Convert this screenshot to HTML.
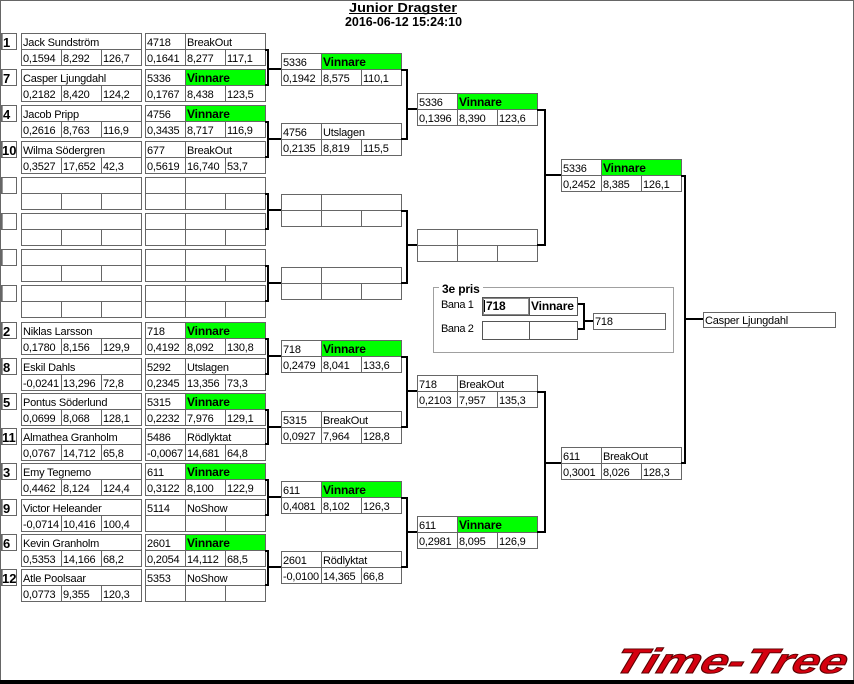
<!DOCTYPE html>
<html>
<head>
<meta charset="utf-8">
<style>
html,body{margin:0;padding:0;background:#fff;}
svg{display:block;}
.t{font-family:"Liberation Sans",Arial,sans-serif;font-size:11px;letter-spacing:-0.2px;fill:#000;}
.v{font-family:"Liberation Sans",Arial,sans-serif;font-size:12px;font-weight:bold;letter-spacing:-0.15px;fill:#000;}
.s{font-family:"Liberation Sans",Arial,sans-serif;font-size:13px;font-weight:bold;fill:#000;}
.h{font-family:"Liberation Sans",Arial,sans-serif;font-size:13px;font-weight:bold;fill:#000;}
.br{fill:none;stroke:#000;stroke-width:2;stroke-linejoin:miter;}
.g{fill:#00ff00;}
</style>
</head>
<body>
<svg width="854" height="684" viewBox="0 0 854 684" xmlns="http://www.w3.org/2000/svg">
<defs>
  <g id="b1" fill="none" stroke="#666" stroke-width="1" shape-rendering="crispEdges">
    <rect x="0.5" y="0.5" width="120" height="32"/>
    <line x1="0" y1="16.5" x2="121" y2="16.5"/>
    <line x1="40.5" y1="16" x2="40.5" y2="33"/>
    <line x1="80.5" y1="16" x2="80.5" y2="33"/>
  </g>
  <g id="b2" fill="none" stroke="#666" stroke-width="1" shape-rendering="crispEdges">
    <rect x="0.5" y="0.5" width="120" height="32"/>
    <line x1="0" y1="16.5" x2="121" y2="16.5"/>
    <line x1="40.5" y1="0" x2="40.5" y2="33"/>
    <line x1="80.5" y1="16" x2="80.5" y2="33"/>
  </g>
  <g id="sd" fill="none" stroke="#666" stroke-width="1" shape-rendering="crispEdges">
    <rect x="1.5" y="0.5" width="15" height="16"/>
    <line x1="2.5" y1="1" x2="2.5" y2="16" stroke="#999"/>
  </g>
</defs>

<!-- frame -->
<rect x="0" y="0" width="854" height="684" fill="#fff"/>
<g shape-rendering="crispEdges">
<rect x="0" y="0" width="854" height="1" fill="#666"/>
<rect x="0" y="0" width="1" height="681" fill="#666"/>
<rect x="853" y="0" width="1" height="681" fill="#666"/>
<rect x="0" y="680" width="854" height="4" fill="#000"/>
</g>

<!-- title -->
<text class="h" x="349" y="12" textLength="108" lengthAdjust="spacingAndGlyphs">Junior Dragster</text>
<rect x="349" y="13" width="108" height="1" fill="#000"/>
<text class="h" x="345" y="26" textLength="117" lengthAdjust="spacingAndGlyphs">2016-06-12 15:24:10</text>

<!-- green fills -->
<g class="g">
<rect x="186" y="70" width="79" height="15"/>
<rect x="186" y="106" width="79" height="15"/>
<rect x="186" y="323" width="79" height="15"/>
<rect x="186" y="394" width="79" height="15"/>
<rect x="186" y="464" width="79" height="15"/>
<rect x="186" y="535" width="79" height="15"/>
<rect x="322" y="54" width="79" height="15"/>
<rect x="322" y="341" width="79" height="15"/>
<rect x="322" y="482" width="79" height="15"/>
<rect x="458" y="94" width="79" height="15"/>
<rect x="458" y="517" width="79" height="15"/>
<rect x="602" y="160" width="79" height="15"/>
</g>

<!-- round 1 boxes -->
<use href="#sd" x="0" y="33"/><use href="#b1" x="21" y="33"/><use href="#b2" x="145" y="33"/>
<use href="#sd" x="0" y="69"/><use href="#b1" x="21" y="69"/><use href="#b2" x="145" y="69"/>
<use href="#sd" x="0" y="105"/><use href="#b1" x="21" y="105"/><use href="#b2" x="145" y="105"/>
<use href="#sd" x="0" y="141"/><use href="#b1" x="21" y="141"/><use href="#b2" x="145" y="141"/>
<use href="#sd" x="0" y="177"/><use href="#b1" x="21" y="177"/><use href="#b2" x="145" y="177"/>
<use href="#sd" x="0" y="213"/><use href="#b1" x="21" y="213"/><use href="#b2" x="145" y="213"/>
<use href="#sd" x="0" y="249"/><use href="#b1" x="21" y="249"/><use href="#b2" x="145" y="249"/>
<use href="#sd" x="0" y="285"/><use href="#b1" x="21" y="285"/><use href="#b2" x="145" y="285"/>
<use href="#sd" x="0" y="322"/><use href="#b1" x="21" y="322"/><use href="#b2" x="145" y="322"/>
<use href="#sd" x="0" y="358"/><use href="#b1" x="21" y="358"/><use href="#b2" x="145" y="358"/>
<use href="#sd" x="0" y="393"/><use href="#b1" x="21" y="393"/><use href="#b2" x="145" y="393"/>
<use href="#sd" x="0" y="428"/><use href="#b1" x="21" y="428"/><use href="#b2" x="145" y="428"/>
<use href="#sd" x="0" y="463"/><use href="#b1" x="21" y="463"/><use href="#b2" x="145" y="463"/>
<use href="#sd" x="0" y="499"/><use href="#b1" x="21" y="499"/><use href="#b2" x="145" y="499"/>
<use href="#sd" x="0" y="534"/><use href="#b1" x="21" y="534"/><use href="#b2" x="145" y="534"/>
<use href="#sd" x="0" y="569"/><use href="#b1" x="21" y="569"/><use href="#b2" x="145" y="569"/>

<!-- round 2..4 boxes -->
<use href="#b2" x="281" y="53"/>
<use href="#b2" x="281" y="123"/>
<use href="#b2" x="281" y="194"/>
<use href="#b2" x="281" y="267"/>
<use href="#b2" x="281" y="340"/>
<use href="#b2" x="281" y="411"/>
<use href="#b2" x="281" y="481"/>
<use href="#b2" x="281" y="551"/>
<use href="#b2" x="417" y="93"/>
<use href="#b2" x="417" y="229"/>
<use href="#b2" x="417" y="375"/>
<use href="#b2" x="417" y="516"/>
<use href="#b2" x="561" y="159"/>
<use href="#b2" x="561" y="447"/>

<!-- final box -->
<rect x="703.5" y="312.5" width="132" height="15" fill="none" stroke="#666" shape-rendering="crispEdges"/>
<text class="t" x="705" y="324">Casper Ljungdahl</text>

<!-- brackets -->
<g class="br">
<path d="M265 50 H268 V85 H265"/><path d="M268 69 H281"/>
<path d="M265 122 H268 V157 H265"/><path d="M268 139 H281"/>
<path d="M265 194 H268 V229 H265"/><path d="M268 210 H281"/>
<path d="M265 266 H268 V301 H265"/><path d="M268 283 H281"/>
<path d="M265 339 H268 V374 H265"/><path d="M268 356 H281"/>
<path d="M265 410 H268 V444 H265"/><path d="M268 427 H281"/>
<path d="M265 480 H268 V515 H265"/><path d="M268 497 H281"/>
<path d="M265 551 H268 V585 H265"/><path d="M268 567 H281"/>

<path d="M401 70 H407 V139 H401"/><path d="M407 109 H417"/>
<path d="M401 211 H407 V283 H401"/><path d="M407 245 H417"/>
<path d="M401 357 H407 V427 H401"/><path d="M407 391 H417"/>
<path d="M401 498 H407 V567 H401"/><path d="M407 532 H417"/>

<path d="M537 110 H545 V245 H537"/><path d="M545 175 H561"/>
<path d="M537 392 H545 V532 H537"/><path d="M545 463 H561"/>

<path d="M681 176 H685 V463 H681"/><path d="M685 319 H703"/>

<path d="M577 304 H584 V329 H577"/><path d="M584 321 H593"/>
</g>

<!-- seeds -->
<text class="s" x="3" y="47">1</text>
<text class="s" x="3" y="83">7</text>
<text class="s" x="3" y="119">4</text>
<text class="s" x="2" y="155">10</text>
<text class="s" x="3" y="336">2</text>
<text class="s" x="3" y="372">8</text>
<text class="s" x="3" y="407">5</text>
<text class="s" x="2" y="442">11</text>
<text class="s" x="3" y="477">3</text>
<text class="s" x="3" y="513">9</text>
<text class="s" x="3" y="548">6</text>
<text class="s" x="2" y="583">12</text>

<!-- round 1 col1 -->
<text class="t" x="23" y="46">Jack Sundström</text>
<text class="t" x="23" y="62">0,1594</text><text class="t" x="63" y="62">8,292</text><text class="t" x="103" y="62">126,7</text>
<text class="t" x="23" y="82">Casper Ljungdahl</text>
<text class="t" x="23" y="98">0,2182</text><text class="t" x="63" y="98">8,420</text><text class="t" x="103" y="98">124,2</text>
<text class="t" x="23" y="118">Jacob Pripp</text>
<text class="t" x="23" y="134">0,2616</text><text class="t" x="63" y="134">8,763</text><text class="t" x="103" y="134">116,9</text>
<text class="t" x="23" y="154">Wilma Södergren</text>
<text class="t" x="23" y="170">0,3527</text><text class="t" x="63" y="170">17,652</text><text class="t" x="103" y="170">42,3</text>

<text class="t" x="23" y="335">Niklas Larsson</text>
<text class="t" x="23" y="351">0,1780</text><text class="t" x="63" y="351">8,156</text><text class="t" x="103" y="351">129,9</text>
<text class="t" x="23" y="371">Eskil Dahls</text>
<text class="t" x="23" y="387">-0,0241</text><text class="t" x="63" y="387">13,296</text><text class="t" x="103" y="387">72,8</text>
<text class="t" x="23" y="406">Pontus Söderlund</text>
<text class="t" x="23" y="422">0,0699</text><text class="t" x="63" y="422">8,068</text><text class="t" x="103" y="422">128,1</text>
<text class="t" x="23" y="441">Almathea Granholm</text>
<text class="t" x="23" y="457">0,0767</text><text class="t" x="63" y="457">14,712</text><text class="t" x="103" y="457">65,8</text>
<text class="t" x="23" y="476">Emy Tegnemo</text>
<text class="t" x="23" y="492">0,4462</text><text class="t" x="63" y="492">8,124</text><text class="t" x="103" y="492">124,4</text>
<text class="t" x="23" y="512">Victor Heleander</text>
<text class="t" x="23" y="528">-0,0714</text><text class="t" x="63" y="528">10,416</text><text class="t" x="103" y="528">100,4</text>
<text class="t" x="23" y="547">Kevin Granholm</text>
<text class="t" x="23" y="563">0,5353</text><text class="t" x="63" y="563">14,166</text><text class="t" x="103" y="563">68,2</text>
<text class="t" x="23" y="582">Atle Poolsaar</text>
<text class="t" x="23" y="598">0,0773</text><text class="t" x="63" y="598">9,355</text><text class="t" x="103" y="598">120,3</text>

<!-- round 1 col2 -->
<text class="t" x="147" y="46">4718</text><text class="t" x="187" y="46">BreakOut</text>
<text class="t" x="147" y="62">0,1641</text><text class="t" x="187" y="62">8,277</text><text class="t" x="227" y="62">117,1</text>
<text class="t" x="147" y="82">5336</text><text class="v" x="187" y="82">Vinnare</text>
<text class="t" x="147" y="98">0,1767</text><text class="t" x="187" y="98">8,438</text><text class="t" x="227" y="98">123,5</text>
<text class="t" x="147" y="118">4756</text><text class="v" x="187" y="118">Vinnare</text>
<text class="t" x="147" y="134">0,3435</text><text class="t" x="187" y="134">8,717</text><text class="t" x="227" y="134">116,9</text>
<text class="t" x="147" y="154">677</text><text class="t" x="187" y="154">BreakOut</text>
<text class="t" x="147" y="170">0,5619</text><text class="t" x="187" y="170">16,740</text><text class="t" x="227" y="170">53,7</text>

<text class="t" x="147" y="335">718</text><text class="v" x="187" y="335">Vinnare</text>
<text class="t" x="147" y="351">0,4192</text><text class="t" x="187" y="351">8,092</text><text class="t" x="227" y="351">130,8</text>
<text class="t" x="147" y="371">5292</text><text class="t" x="187" y="371">Utslagen</text>
<text class="t" x="147" y="387">0,2345</text><text class="t" x="187" y="387">13,356</text><text class="t" x="227" y="387">73,3</text>
<text class="t" x="147" y="406">5315</text><text class="v" x="187" y="406">Vinnare</text>
<text class="t" x="147" y="422">0,2232</text><text class="t" x="187" y="422">7,976</text><text class="t" x="227" y="422">129,1</text>
<text class="t" x="147" y="441">5486</text><text class="t" x="187" y="441">Rödlyktat</text>
<text class="t" x="147" y="457">-0,0067</text><text class="t" x="187" y="457">14,681</text><text class="t" x="227" y="457">64,8</text>
<text class="t" x="147" y="476">611</text><text class="v" x="187" y="476">Vinnare</text>
<text class="t" x="147" y="492">0,3122</text><text class="t" x="187" y="492">8,100</text><text class="t" x="227" y="492">122,9</text>
<text class="t" x="147" y="512">5114</text><text class="t" x="187" y="512">NoShow</text>
<text class="t" x="147" y="547">2601</text><text class="v" x="187" y="547">Vinnare</text>
<text class="t" x="147" y="563">0,2054</text><text class="t" x="187" y="563">14,112</text><text class="t" x="227" y="563">68,5</text>
<text class="t" x="147" y="582">5353</text><text class="t" x="187" y="582">NoShow</text>

<!-- round 2 -->
<text class="t" x="283" y="66">5336</text><text class="v" x="323" y="66">Vinnare</text>
<text class="t" x="283" y="82">0,1942</text><text class="t" x="323" y="82">8,575</text><text class="t" x="363" y="82">110,1</text>
<text class="t" x="283" y="136">4756</text><text class="t" x="323" y="136">Utslagen</text>
<text class="t" x="283" y="152">0,2135</text><text class="t" x="323" y="152">8,819</text><text class="t" x="363" y="152">115,5</text>
<text class="t" x="283" y="353">718</text><text class="v" x="323" y="353">Vinnare</text>
<text class="t" x="283" y="369">0,2479</text><text class="t" x="323" y="369">8,041</text><text class="t" x="363" y="369">133,6</text>
<text class="t" x="283" y="424">5315</text><text class="t" x="323" y="424">BreakOut</text>
<text class="t" x="283" y="440">0,0927</text><text class="t" x="323" y="440">7,964</text><text class="t" x="363" y="440">128,8</text>
<text class="t" x="283" y="494">611</text><text class="v" x="323" y="494">Vinnare</text>
<text class="t" x="283" y="510">0,4081</text><text class="t" x="323" y="510">8,102</text><text class="t" x="363" y="510">126,3</text>
<text class="t" x="283" y="564">2601</text><text class="t" x="323" y="564">Rödlyktat</text>
<text class="t" x="283" y="580">-0,0100</text><text class="t" x="323" y="580">14,365</text><text class="t" x="363" y="580">66,8</text>

<!-- round 3 -->
<text class="t" x="419" y="106">5336</text><text class="v" x="459" y="106">Vinnare</text>
<text class="t" x="419" y="122">0,1396</text><text class="t" x="459" y="122">8,390</text><text class="t" x="499" y="122">123,6</text>
<text class="t" x="419" y="388">718</text><text class="t" x="459" y="388">BreakOut</text>
<text class="t" x="419" y="404">0,2103</text><text class="t" x="459" y="404">7,957</text><text class="t" x="499" y="404">135,3</text>
<text class="t" x="419" y="529">611</text><text class="v" x="459" y="529">Vinnare</text>
<text class="t" x="419" y="545">0,2981</text><text class="t" x="459" y="545">8,095</text><text class="t" x="499" y="545">126,9</text>

<!-- round 4 -->
<text class="t" x="563" y="172">5336</text><text class="v" x="603" y="172">Vinnare</text>
<text class="t" x="563" y="188">0,2452</text><text class="t" x="603" y="188">8,385</text><text class="t" x="643" y="188">126,1</text>
<text class="t" x="563" y="460">611</text><text class="t" x="603" y="460">BreakOut</text>
<text class="t" x="563" y="476">0,3001</text><text class="t" x="603" y="476">8,026</text><text class="t" x="643" y="476">128,3</text>

<!-- 3e pris -->
<rect x="433.5" y="287.5" width="240" height="65" fill="none" stroke="#a0a0a0" shape-rendering="crispEdges"/>
<rect x="439" y="282" width="44" height="11" fill="#fff"/>
<text class="v" x="442" y="293">3e pris</text>
<text class="t" x="441" y="308" style="letter-spacing:-0.4px">Bana 1</text>
<text class="t" x="441" y="332" style="letter-spacing:-0.4px">Bana 2</text>
<g fill="none" stroke="#555" shape-rendering="crispEdges">
<rect x="482.5" y="297.5" width="95" height="18"/>
<line x1="529.5" y1="297" x2="529.5" y2="316"/>
<rect x="483.5" y="298.5" width="45" height="16" stroke="#888"/>
<rect x="482.5" y="321.5" width="95" height="18"/>
<line x1="529.5" y1="321" x2="529.5" y2="340"/>
<rect x="593.5" y="313.5" width="72" height="16" stroke="#666"/>
</g>
<rect x="484" y="300" width="1" height="12" fill="#000"/>
<text class="v" x="486" y="310">718</text>
<text class="v" x="531" y="310">Vinnare</text>
<text class="t" x="595" y="325">718</text>

<!-- logo -->
<g transform="translate(612,673) skewX(-18)">
<text x="0" y="0" textLength="232" lengthAdjust="spacingAndGlyphs" style="font-family:'Liberation Sans',Arial,sans-serif;font-size:35px;font-weight:bold;font-style:italic;fill:#d4000f;stroke:#5a0000;stroke-width:0.9px;">Time-Tree</text>
</g>
</svg>
</body>
</html>
